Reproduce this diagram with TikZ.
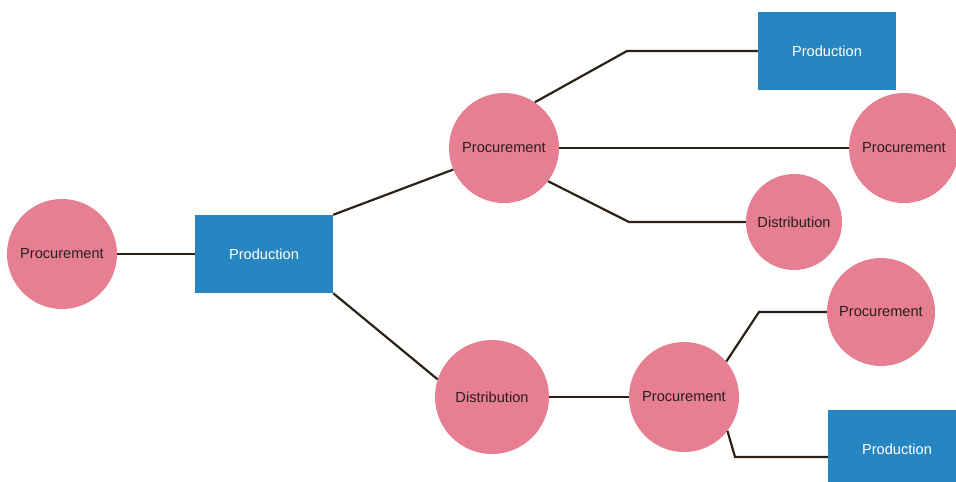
\documentclass[tikz,border=0pt]{standalone}
\usepackage{fontspec}
\setmainfont{Liberation Sans}
\usepackage{xcolor}
\usepackage{tikz}

\definecolor{pinkfill}{HTML}{E67F91}
\definecolor{bluefill}{HTML}{2786C2}
\definecolor{linkcol}{HTML}{2A2119}
\definecolor{darktext}{HTML}{2B1E20}

\begin{document}
\begin{tikzpicture}[x=1pt, y=-1pt,
  every node/.style={font=\fontsize{14.6}{17}\selectfont, inner sep=0pt},
  proc/.style={circle, fill=pinkfill, text=darktext, minimum size=110pt},
  prod/.style={rectangle, fill=bluefill, text=white, minimum width=138pt, minimum height=78pt},
  link/.style={draw=linkcol, line width=2.2pt}]
  \useasboundingbox (0,0) rectangle (956,482);
  \clip (0,0) rectangle (956,482);

  \node [proc] (P0) at (62,254) {Procurement};
  \node [prod] (M0) at (264,254) {Production};
  \node [proc] (P1) at (504,148) {Procurement};
  \node [proc, minimum size=114pt] (D2) at (492,397) {Distribution};
  \node [prod] (M1) at (827,51) {Production};
  \node [proc] (P2) at (904,148) {Procurement};
  \node [proc, minimum size=96pt] (D1) at (794,222) {Distribution};
  \node [proc] (P3) at (684,397) {Procurement};
  \node [proc, minimum size=108pt] (P4) at (881,312) {Procurement};
  \node [prod] (M2) at (897,449) {Production};

  \coordinate (B1) at (627,51);
  \coordinate (B2) at (629,222);
  \coordinate (B3) at (759,312);
  \coordinate (B4) at (735,457);

  \draw [link] (P0) -- (M0);
  \draw [link] (M0.north east) -- (P1.203);
  \draw [link] (M0.south east) -- (D2.162);
  \draw [link] (P1.56) -- (B1) -- (M1.west);
  \draw [link] (P1) -- (P2);
  \draw [link] (P1.-37) -- (B2) -- (D1.west);
  \draw [link] (D2) -- (P3);
  \draw [link] (P3.40) -- (B3) -- (P4.west);
  \draw [link] (P3.-38) -- (B4) -- (M2.west |- B4);
\end{tikzpicture}
\end{document}
